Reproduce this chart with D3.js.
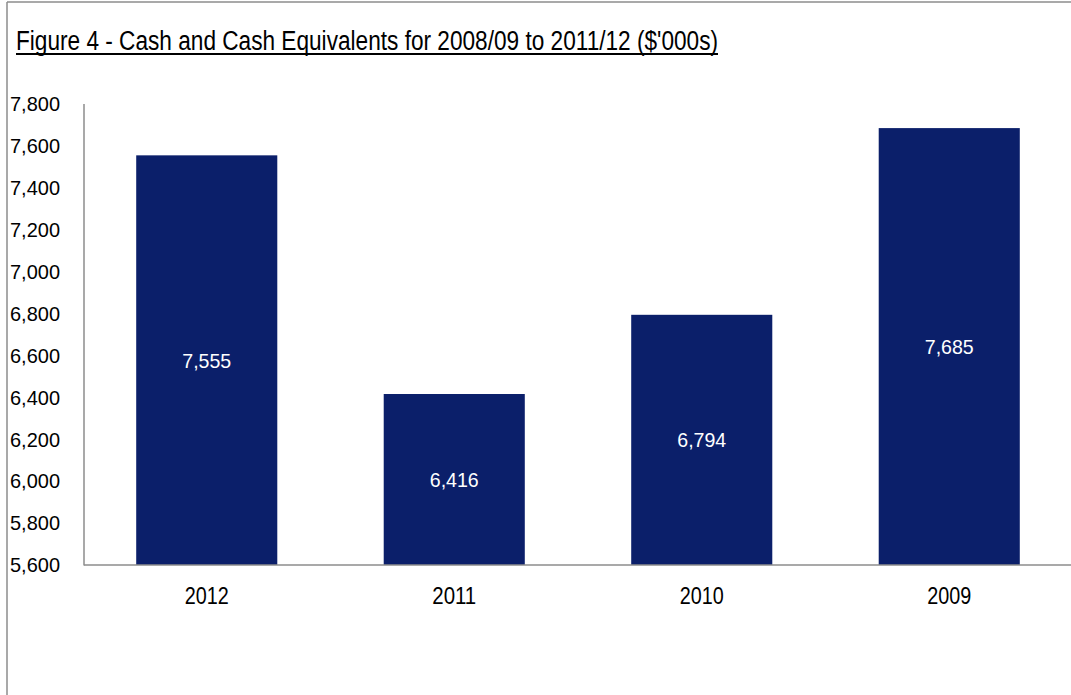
<!DOCTYPE html>
<html>
<head>
<meta charset="utf-8">
<script src="https://cdn.jsdelivr.net/npm/d3@7/dist/d3.min.js"></script>
<style>
  html, body { margin: 0; padding: 0; background: #fff; }
  svg { display: block; }
</style>
</head>
<body>
<div id="chart"></div>
<script>
"use strict";

const TITLE = "Figure 4 - Cash and Cash Equivalents for 2008/09 to 2011/12 ($'000s)";
const YEARS = ["2012", "2011", "2010", "2009"];
const CASH = [7555, 6416, 6794, 7685];
const Y_TICKS = [5600, 5800, 6000, 6200, 6400, 6600, 6800, 7000, 7200, 7400, 7600, 7800];

const WIDTH = 1071;
const HEIGHT = 695;
const BAR_COLOR = "#0b1f6a";
const AXIS_COLOR = "#8c8c8c";
const FONT = '"Liberation Sans", Arial, sans-serif';
const fmt = d3.format(",");

const svg = d3.select("#chart").append("svg").attr("width", WIDTH).attr("height", HEIGHT);

// frame: only top and left edges show in the picture
svg.append("line").attr("x1", 7).attr("x2", WIDTH).attr("y1", 2).attr("y2", 2).attr("stroke", AXIS_COLOR).attr("stroke-width", 1.5);
svg.append("line").attr("x1", 7).attr("x2", 7).attr("y1", 2).attr("y2", HEIGHT).attr("stroke", AXIS_COLOR).attr("stroke-width", 1.5);

// the source font is a condensed face, so text is squeezed to measured widths
svg.append("text").attr("x", 16).attr("y", 50).attr("font-family", FONT).attr("font-size", 27).attr("fill", "#000")
  .attr("textLength", 702).attr("lengthAdjust", "spacingAndGlyphs").text(TITLE);
svg.append("line").attr("x1", 16).attr("x2", 718).attr("y1", 54).attr("y2", 54).attr("stroke", "#000").attr("stroke-width", 2);

const x = d3.scaleBand().domain(YEARS).range([83, 1073]).paddingInner(0.43).paddingOuter(0.215);
const y = d3.scaleLinear().domain([5600, 7800]).range([565, 104]);

svg.append("g").selectAll("rect.bar").data(YEARS).join("rect")
  .attr("class", "bar")
  .attr("x", function barX(d) { return x(d); })
  .attr("y", function barY(d, i) { return y(CASH[i]); })
  .attr("width", x.bandwidth())
  .attr("height", function barH(d, i) { return y(5600) - y(CASH[i]); })
  .attr("fill", BAR_COLOR);

svg.append("g").selectAll("text.value").data(YEARS).join("text")
  .attr("class", "value")
  .attr("x", function valX(d) { return x(d) + x.bandwidth() / 2; })
  .attr("y", function valY(d, i) { return (y(CASH[i]) + y(5600)) / 2; })
  .attr("dy", "0.35em")
  .attr("text-anchor", "middle")
  .attr("font-family", FONT).attr("font-size", 21).attr("fill", "#fff")
  .attr("textLength", 49).attr("lengthAdjust", "spacingAndGlyphs")
  .text(function valText(d, i) { return fmt(CASH[i]); });

const yAxis = svg.append("g").attr("transform", "translate(84,0)")
  .call(d3.axisLeft(y).tickValues(Y_TICKS).tickFormat(fmt).tickSize(0).tickPadding(24));
yAxis.select(".domain").remove();
yAxis.selectAll("text").attr("font-family", FONT).attr("font-size", 21).attr("fill", "#000")
  .attr("textLength", 50).attr("lengthAdjust", "spacingAndGlyphs");

svg.append("line").attr("x1", 84).attr("x2", 84).attr("y1", 104).attr("y2", 565.5).attr("stroke", AXIS_COLOR).attr("stroke-width", 1.5);

const xAxis = svg.append("g").attr("transform", "translate(0,565)")
  .call(d3.axisBottom(x).tickSize(0).tickPadding(22));
xAxis.select(".domain").remove();
xAxis.selectAll("text").attr("font-family", FONT).attr("font-size", 24).attr("fill", "#000")
  .attr("textLength", 44).attr("lengthAdjust", "spacingAndGlyphs");

svg.append("line").attr("x1", 84).attr("x2", WIDTH).attr("y1", 565).attr("y2", 565).attr("stroke", AXIS_COLOR).attr("stroke-width", 1.5);
</script>
</body>
</html>
